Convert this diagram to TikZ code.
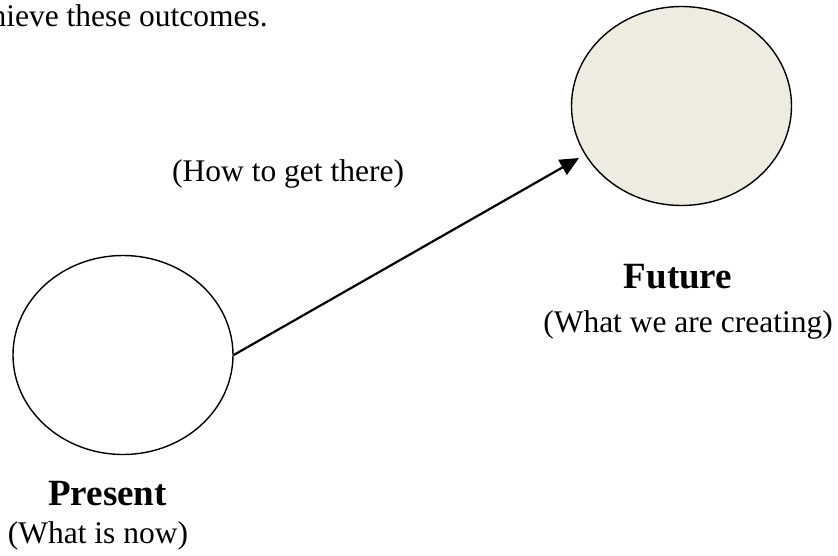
\documentclass[tikz,border=0pt]{standalone}
\usepackage{fontspec}
\setmainfont{Liberation Serif}
\usetikzlibrary{shapes.geometric,arrows.meta}
\definecolor{futfill}{HTML}{EEECE1}
\tikzset{
  blob/.style={draw=black,line width=1.4pt,ellipse,minimum width=220pt,minimum height=199pt,inner sep=0pt},
  txt/.style={font=\fontsize{31.5}{36}\selectfont,inner sep=0pt},
  ttl/.style={font=\fontsize{37}{42}\selectfont\bfseries,inner sep=0pt},
  conn/.style={line width=2.2pt,-{Triangle[length=19pt,width=17pt]}}
}
\begin{document}
\begin{tikzpicture}[x=1pt,y=-1pt]
\useasboundingbox (0,0) rectangle (838,556);
\node[txt,anchor=base east] (intro) at (268,27) {achieve these outcomes.};
\node[blob,fill=futfill] (future) at (681.5,106) {};
\node[blob,fill=white] (present) at (123,355) {};
\coordinate (tip) at (579,158);
\draw[conn] (present.east) -- (tip);
\node[txt,anchor=base west] (how) at (172,182) {(How to get there)};
\node[ttl,anchor=base] (futlbl) at (678,288) {Future};
\node[txt,anchor=base] (futsub) at (688,332) {(What we are creating)};
\node[ttl,anchor=base] (prelbl) at (107.5,505) {Present};
\node[txt,anchor=base] (presub) at (98,543) {(What is now)};
\end{tikzpicture}
\end{document}
